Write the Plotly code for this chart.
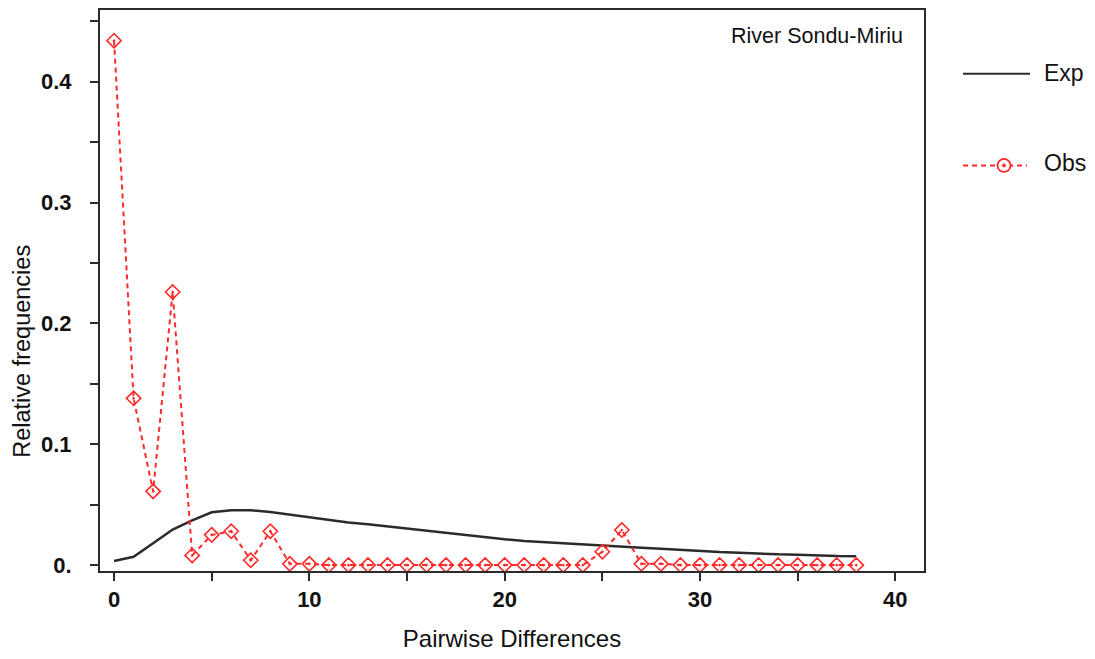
import plotly.graph_objects as go

# Mismatch distribution data
pairwise_diff = list(range(0, 39))

obs_freq = [0.434, 0.138, 0.061, 0.226, 0.008, 0.025, 0.028, 0.004, 0.028, 0.001,
            0.001, 0.0, 0.0, 0.0, 0.0, 0.0, 0.0, 0.0, 0.0, 0.0,
            0.0, 0.0, 0.0, 0.0, 0.0, 0.011, 0.029, 0.001, 0.001, 0.0,
            0.0, 0.0, 0.0, 0.0, 0.0, 0.0, 0.0, 0.0, 0.0]

exp_freq = [0.0033, 0.0069, 0.018, 0.0294, 0.037, 0.0437, 0.0454, 0.0454, 0.044, 0.0418,
            0.0393, 0.037, 0.0352, 0.0338, 0.032, 0.030, 0.0283, 0.0267, 0.0247, 0.0233,
            0.0214, 0.020, 0.019, 0.0179, 0.0167, 0.0159, 0.0151, 0.0143, 0.0136, 0.0126,
            0.0118, 0.0108, 0.0103, 0.0095, 0.0089, 0.0086, 0.0078, 0.0075, 0.0074]

x_tick_vals = [0, 5, 10, 15, 20, 25, 30, 35, 40]
x_tick_text = ["0", "", "10", "", "20", "", "30", "", "40"]
y_tick_vals = [0, 0.05, 0.1, 0.15, 0.2, 0.25, 0.3, 0.35, 0.4, 0.45]
y_tick_text = ["0.", "", "0.1", "", "0.2", "", "0.3", "", "0.4", ""]

RED = "#ff2a2a"
DARK = "#2b2b2b"
FONT = "Liberation Sans, Arial, sans-serif"
TEXT = "#111111"

fig = go.Figure()

fig.add_trace(go.Scatter(
    x=pairwise_diff, y=exp_freq, mode="lines", name="Exp",
    line=dict(color=DARK, width=2.5),
))

fig.add_trace(go.Scatter(
    x=pairwise_diff, y=obs_freq, mode="lines+markers", name="Obs",
    line=dict(color=RED, width=2, dash="5px,4px"),
    marker=dict(symbol="diamond-open-dot", size=11, color=RED,
                line=dict(color=RED, width=1.6)),
))

axis_common = dict(
    showgrid=False, zeroline=False, showline=True, linecolor=DARK, linewidth=2,
    mirror=True, ticks="outside", ticklen=8, tickwidth=2, tickcolor=DARK,
    tickfont=dict(family=FONT, size=22, color=TEXT, weight="bold"),
)

fig.update_xaxes(
    **axis_common, range=[-0.72, 41.47],
    tickmode="array", tickvals=x_tick_vals, ticktext=x_tick_text,
    title=dict(text="Pairwise Differences", font=dict(family=FONT, size=24, color=TEXT),
               standoff=19),
)
fig.update_yaxes(
    **axis_common, range=[-0.0049, 0.4594],
    tickmode="array", tickvals=y_tick_vals, ticktext=y_tick_text,
    ticklabelstandoff=14,
)


# Paper coordinates of an 824x563 plot box starting at (100, 8)
def px(xp):
    return (xp - 100) / 824


def py(yp):
    return (571 - yp) / 563


# Y-axis title, set low along the axis
fig.add_annotation(xref="paper", yref="paper", x=px(22), y=py(351),
                   text="Relative frequencies", textangle=-90, showarrow=False,
                   xanchor="center", yanchor="middle",
                   font=dict(family=FONT, size=23.5, color=TEXT))

# Legend drawn at the right of the plot frame
fig.add_shape(type="line", xref="paper", yref="paper",
              x0=px(963), x1=px(1030), y0=py(72), y1=py(72),
              line=dict(color=DARK, width=2))
fig.add_shape(type="line", xref="paper", yref="paper",
              x0=px(963), x1=px(1027), y0=py(164), y1=py(164),
              line=dict(color=RED, width=2, dash="5px,4px"))
fig.add_shape(type="circle", xref="paper", yref="paper",
              x0=px(997.5), x1=px(1010.5), y0=py(170.5), y1=py(157.5),
              fillcolor="white", line=dict(color=RED, width=1.8))
fig.add_shape(type="circle", xref="paper", yref="paper",
              x0=px(1002.3), x1=px(1005.7), y0=py(165.7), y1=py(162.3),
              fillcolor=RED, line=dict(color=RED, width=0.5))
fig.add_annotation(xref="paper", yref="paper", x=px(1042), y=py(71),
                   text="Exp", showarrow=False, xanchor="left", yanchor="middle",
                   font=dict(family=FONT, size=23, color=TEXT))
fig.add_annotation(xref="paper", yref="paper", x=px(1042), y=py(162),
                   text="Obs", showarrow=False, xanchor="left", yanchor="middle",
                   font=dict(family=FONT, size=23, color=TEXT))

fig.add_annotation(xref="paper", yref="paper", x=px(905), y=py(34),
                   text="River Sondu-Miriu", showarrow=False, xanchor="right", yanchor="middle",
                   font=dict(family=FONT, size=21.5, color=TEXT))

fig.update_layout(
    width=1095, height=659,
    margin=dict(l=100, r=171, t=8, b=88),
    paper_bgcolor="white", plot_bgcolor="white",
    showlegend=False,
)

fig.write_html("out.html")
